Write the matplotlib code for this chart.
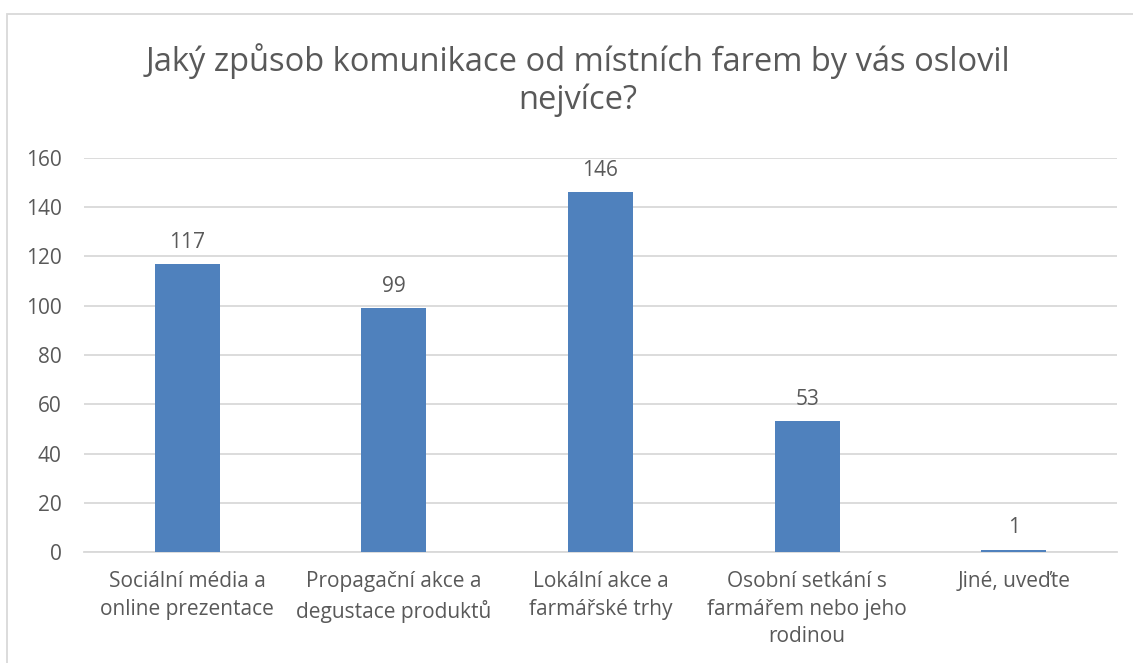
import matplotlib.pyplot as plt
from matplotlib.patches import Rectangle

plt.rcParams['font.family'] = ['Open Sans', 'DejaVu Sans']

categories = ["Sociální média a\nonline prezentace",
              "Propagační akce a\ndegustace produktů",
              "Lokální akce a\nfarmářské trhy",
              "Osobní setkání s\nfarmářem nebo jeho\nrodinou",
              "Jiné, uveďte"]
values = [117, 99, 146, 53, 1]
yticks = [0, 20, 40, 60, 80, 100, 120, 140, 160]

text_color = "#595959"
grid_color = "#D9D9D9"
bar_color = "#4F81BD"

W, H = 1133, 663
fig = plt.figure(figsize=(W / 100, H / 100), dpi=100)
ax = fig.add_axes([84 / W, 1 - 552 / H, (1117 - 84) / W, (552 - 158) / H])

x = range(len(categories))
ax.bar(x, values, width=0.315, color=bar_color, zorder=3)
for xi, v in zip(x, values):
    ax.annotate(str(v), (xi, v), xytext=(0, 8), textcoords="offset points",
                ha="center", va="bottom", fontsize=15, color=text_color)

ax.set_xlim(-0.5, len(categories) - 0.5)
ax.set_ylim(0, 160)
ax.set_yticks(yticks)
ax.set_xticks(list(x))
ax.set_xticklabels(categories, fontsize=15, color=text_color, linespacing=1.4)
ax.tick_params(axis="y", labelsize=15, labelcolor=text_color, length=0, pad=16)
ax.tick_params(axis="x", length=0, pad=14)
ax.grid(axis="y", color=grid_color, linewidth=1.3, zorder=0)
for s in ["top", "right", "left"]:
    ax.spines[s].set_visible(False)
ax.spines["bottom"].set_color(grid_color)
ax.spines["bottom"].set_linewidth(1.3)

fig.text(578 / W, 1 - 80 / H,
         "Jaký způsob komunikace od místních farem by vás oslovil\nnejvíce?",
         ha="center", va="center", fontsize=23.5, color=text_color, linespacing=1.15)

# chart area border
fig.add_artist(Rectangle((7 / W, -0.1), 1.2, 1 - 14 / H + 0.1, transform=fig.transFigure,
                         fill=False, edgecolor=grid_color, linewidth=1.3))

fig.savefig("out.png", dpi=100)
